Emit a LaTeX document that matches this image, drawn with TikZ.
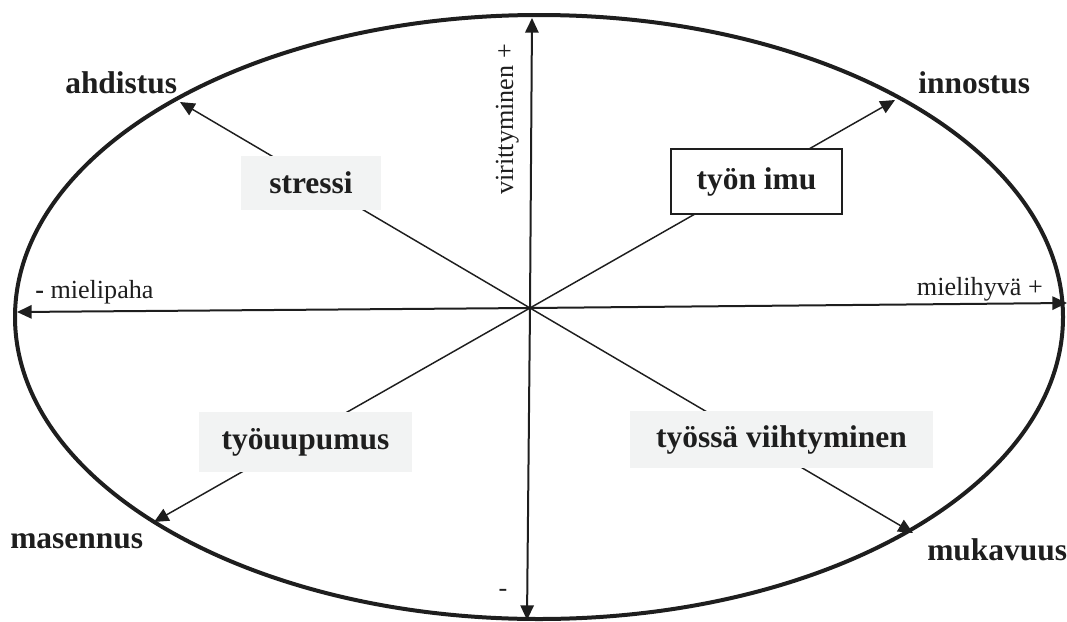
\documentclass[tikz,border=0pt]{standalone}
\usepackage{fontspec}
\setmainfont{Liberation Serif}
\usetikzlibrary{arrows.meta,backgrounds}
\definecolor{boxgray}{HTML}{F2F3F3}
\definecolor{ink}{HTML}{1E1E1E}
\begin{document}
\begin{tikzpicture}[x=0.75pt,y=-0.75pt,
  every node/.style={text=ink},
  axis/.style={draw=ink,line width=1.5pt,-{Triangle[length=11pt,width=10pt]}},
  ray/.style={draw=ink,line width=1.1pt,-{Triangle[length=11pt,width=10pt]}},
  state/.style={font=\fontsize{23.6}{26}\selectfont\bfseries,inner sep=0pt},
  axislabel/.style={font=\fontsize{19.6}{22}\selectfont,inner sep=0pt},
  graybox/.style={state,fill=boxgray,draw=none},
  whitebox/.style={state,fill=white,draw=ink,line width=1.4pt}]
\useasboundingbox (0,0) rectangle (1067,621);

% outer ellipse
\coordinate (c) at (539,317);
\draw[ink,line width=3pt] (c) ellipse [x radius=393pt, y radius=226.5pt];

% centre and axis end points
\coordinate (o) at (530,308);
\coordinate (up) at (532,18);
\coordinate (down) at (527,620);
\coordinate (left) at (17,312);
\coordinate (right) at (1067,303);
\coordinate (tl) at (180,102);
\coordinate (tr) at (895,100);
\coordinate (bl) at (154,522);
\coordinate (br) at (913,533);

% quadrant boxes
\node[graybox,minimum width=105pt,minimum height=40.5pt] (stressi) at (311,183) {stressi\hspace{6pt}};
\node[whitebox,minimum width=128pt,minimum height=48.75pt] (imu) at (756.5,181.5) {työn imu\hspace{3pt}};
\node[graybox,minimum width=160pt,minimum height=45pt] (uupumus) at (305.5,442) {työuupumus};
\node[graybox,minimum width=227pt,minimum height=43pt] (viihty) at (781.5,439.5) {työssä viihtyminen\hspace{4pt}};

% axes and diagonals behind the boxes
\begin{scope}[on background layer]
  \draw[axis] (o) -- (up);
  \draw[axis] (o) -- (down);
  \draw[axis] (o) -- (left);
  \draw[axis] (o) -- (right);
  \draw[ray] (o) -- (tl);
  \draw[ray] (o) -- (tr);
  \draw[ray] (o) -- (bl);
  \draw[ray] (o) -- (br);
\end{scope}

% corner labels
\node[state,anchor=base west] (ahdistus) at (65,93) {ahdistus};
\node[state,anchor=base west] (innostus) at (918,93) {innostus};
\node[state,anchor=base west] (masennus) at (10,548) {masennus};
\node[state,anchor=base west] (mukavuus) at (927,560) {mukavuus};

% axis labels
\node[axislabel,anchor=base west] (neg) at (35,298) {\textbf{-} mielipaha};
\node[axislabel,anchor=base east] (pos) at (1043,295) {mielihyvä +};
\node[axislabel,anchor=base east,rotate=90] (arousal) at (513,44) {virittyminen +};
\node[axislabel,anchor=base] (low) at (503,596) {-};
\end{tikzpicture}
\end{document}
